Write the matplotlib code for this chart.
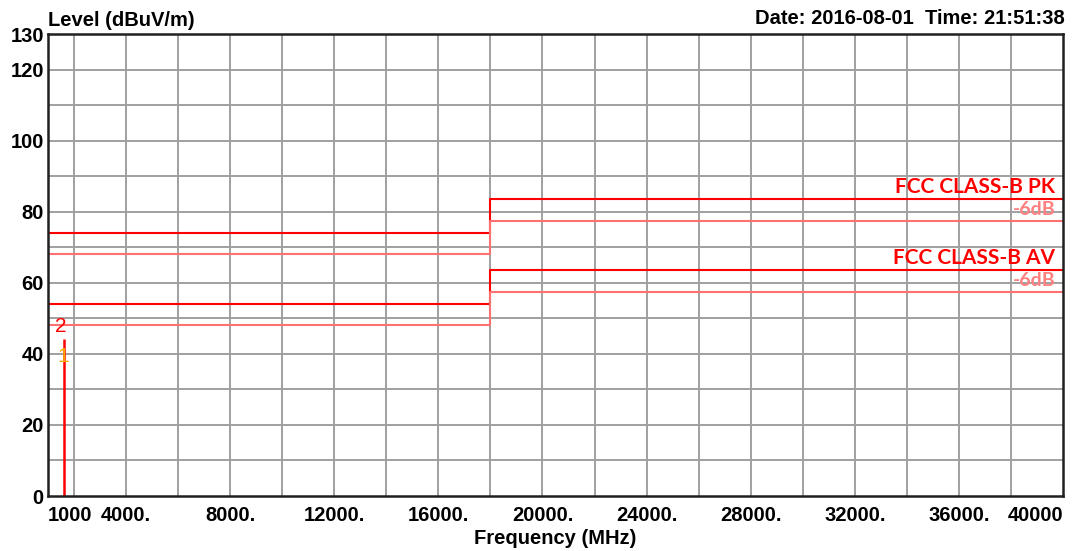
import matplotlib
matplotlib.use('Agg')
import matplotlib.pyplot as plt

# limit lines (FCC class B, above 1 GHz)
freq_edges = [1000, 18000, 40000]
pk_limit = [74, 83.5]
av_limit = [54, 63.5]
margin_db = 6

# measured markers
marker_freq = [1600, 1600]
marker_level = [40.8, 44.3]
marker_names = ['1', '2']
marker_colors = ['#ffa500', '#ff0000']

yticks = [0, 20, 40, 60, 80, 100, 120, 130]
xticks = [1000, 4000, 8000, 12000, 16000, 20000, 24000, 28000, 32000, 36000, 40000]
xtick_labels = ['1000', '4000.', '8000.', '12000.', '16000.', '20000.', '24000.',
                '28000.', '32000.', '36000.', '40000']

plt.rcParams['font.family'] = ['Liberation Sans', 'DejaVu Sans']

fig = plt.figure(figsize=(10.9, 5.51), dpi=100)
ax = fig.add_axes([48/1090, 1-496/551, (1063-48)/1090, (496-34)/551])
ax.set_xlim(1000, 40000)
ax.set_ylim(0, 130)

# grid
for gx in range(2000, 40000, 2000):
    ax.axvline(gx, color='#a0a0a0', lw=1.4, zorder=1)
for gy in range(10, 130, 10):
    ax.axhline(gy, color='#a0a0a0', lw=1.4, zorder=1)

def step(vals):
    return vals + [vals[-1]]

ax.step(freq_edges, step(pk_limit), where='post', color='#ff0000', lw=1.5, zorder=4)
ax.step(freq_edges, step([v - margin_db for v in pk_limit]), where='post', color='#ff7070', lw=1.5, zorder=4)
ax.step(freq_edges, step(av_limit), where='post', color='#ff0000', lw=1.5, zorder=4)
ax.step(freq_edges, step([v - margin_db for v in av_limit]), where='post', color='#ff7070', lw=1.5, zorder=4)

lab_font = ['Lato', 'DejaVu Sans']
for lim, name in [(pk_limit, 'FCC CLASS-B PK'), (av_limit, 'FCC CLASS-B AV')]:
    ax.text(39700, lim[-1] + 1.7, name, color='#ff0000', ha='right', va='baseline',
            fontsize=15, fontweight='bold', family=lab_font, zorder=5)
    ax.text(39700, lim[-1] - 2.9, '-6dB', color='#ff8080', ha='right', va='center',
            fontsize=14, fontweight='bold', family=lab_font, zorder=3)

# markers
ax.vlines(marker_freq[1], 0, max(marker_level), color='#ff0000', lw=1.8, zorder=5)
ax.text(marker_freq[0], marker_level[0] - 1.5, marker_names[0], color=marker_colors[0],
        ha='center', va='center', fontsize=15, zorder=6)
ax.text(marker_freq[1] - 100, marker_level[1] + 3.4, marker_names[1], color=marker_colors[1],
        ha='center', va='center', fontsize=15, zorder=6)

for s in ax.spines.values():
    s.set_color('#202020')
    s.set_linewidth(1.8)
    s.set_zorder(7)

ax.set_yticks(yticks)
ax.set_yticklabels([str(v) for v in yticks], fontsize=14.5, fontweight='bold')
ax.set_xticks(xticks)
ax.set_xticklabels(xtick_labels, fontsize=14.5, fontweight='bold')
ax.tick_params(length=0)
ax.tick_params(axis='x', pad=7)
ax.tick_params(axis='y', pad=3)
xl = ax.get_xticklabels()
xl[0].set_ha('left')
xl[-1].set_ha('right')
ax.set_xlabel('Frequency (MHz)', fontsize=14.5, fontweight='bold', labelpad=3)

fig.text(48/1090, 1-26/551, 'Level (dBuV/m)', fontsize=14.5, fontweight='bold', ha='left', va='baseline')
fig.text(1065/1090, 1-24/551, 'Date: 2016-08-01  Time: 21:51:38', fontsize=14.5, fontweight='bold',
         ha='right', va='baseline')

fig.savefig('out.png', dpi=100)
